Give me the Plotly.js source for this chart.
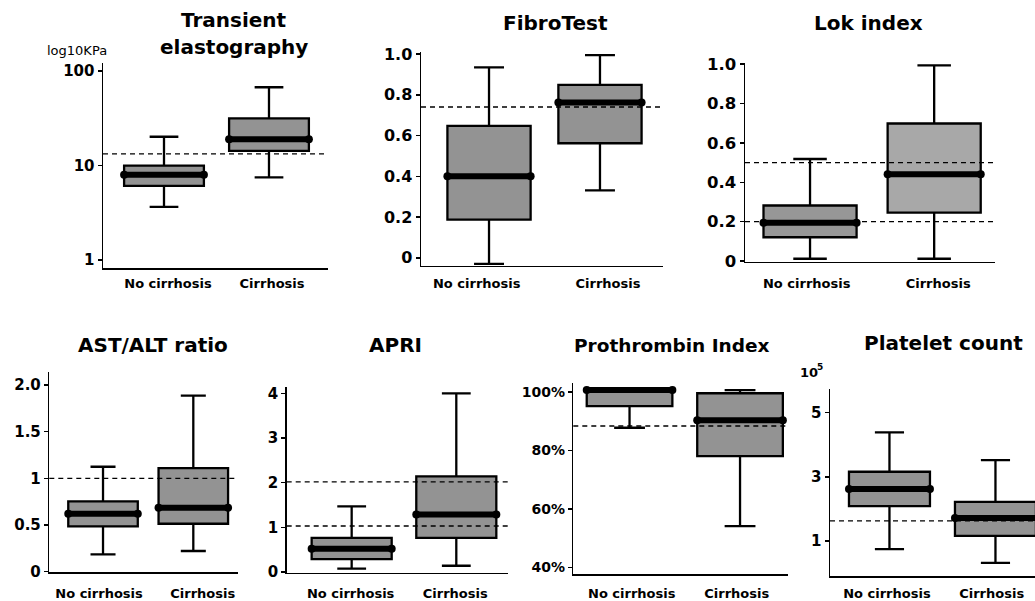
<!DOCTYPE html>
<html>
<head>
<meta charset="utf-8">
<script src="https://cdn.plot.ly/plotly-3.0.1.min.js"></script>
<style>html,body{margin:0;padding:0;background:#fff;}#chart{width:1035px;height:601px;}</style>
</head>
<body>
<div id="chart"></div>
<script>
// ---------------- DATA ----------------
const groups = ["No cirrhosis", "Cirrhosis"];
// each box: [lower whisker, Q1, median, Q3, upper whisker]
const teNoCirrhosis = [3.65, 6.1, 8.0, 9.98, 20.2];
const teCirrhosis = [7.5, 14.3, 19.0, 31.6, 67.5];
const teCutoffs = [13.3];
const teTicks = [1, 10, 100];
const teTickText = ["1", "10", "100"];

const ftNoCirrhosis = [-0.03, 0.187, 0.40, 0.647, 0.935];
const ftCirrhosis = [0.331, 0.562, 0.762, 0.849, 0.995];
const ftCutoffs = [0.74];
const ftTicks = [0, 0.2, 0.4, 0.6, 0.8, 1.0];
const ftTickText = ["0", "0.2", "0.4", "0.6", "0.8", "1.0"];

const lokNoCirrhosis = [0.012, 0.121, 0.194, 0.282, 0.518];
const lokCirrhosis = [0.012, 0.246, 0.44, 0.698, 0.993];
const lokCutoffs = [0.2, 0.5];
const lokTicks = [0, 0.2, 0.4, 0.6, 0.8, 1.0];
const lokTickText = ["0", "0.2", "0.4", "0.6", "0.8", "1.0"];

const astNoCirrhosis = [0.186, 0.486, 0.621, 0.754, 1.125];
const astCirrhosis = [0.222, 0.514, 0.686, 1.111, 1.886];
const astCutoffs = [1.0];
const astTicks = [0, 0.5, 1, 1.5, 2];
const astTickText = ["0", "0.5", "1", "1.5", "2.0"];

const apriNoCirrhosis = [0.075, 0.29, 0.52, 0.762, 1.47];
const apriCirrhosis = [0.14, 0.762, 1.29, 2.14, 4.0];
const apriCutoffs = [1.03, 2.02];
const apriTicks = [0, 1, 2, 3, 4];
const apriTickText = ["0", "1", "2", "3", "4"];

const ptNoCirrhosis = [87.8, 95.2, 100.7, 100.7, 100.7];
const ptCirrhosis = [54.2, 78.1, 90.4, 99.6, 100.7];
const ptCutoffs = [88.4];
const ptTicks = [40, 60, 80, 100];
const ptTickText = ["40%", "60%", "80%", "100%"];

const pltNoCirrhosis = [0.75, 2.09, 2.62, 3.16, 4.39];
const pltCirrhosis = [0.32, 1.16, 1.72, 2.22, 3.52];
const pltCutoffs = [1.63];
const pltTicks = [1, 3, 5];
const pltTickText = ["1", "3", "5"];

const titles = [["Transient", "elastography"], ["FibroTest"], ["Lok index"], ["AST/ALT ratio"], ["APRI"], ["Prothrombin Index"], ["Platelet count"]];
const teUnit = "log10KPa";
const pltUnitBase = "10";
const pltUnitExp = "5";

// ---------------- LAYOUT / STYLE ----------------
const W = 1035, H = 601;
const FONT = "DejaVu Sans, Liberation Sans, Arial, sans-serif";
// lp: x positions of the group labels (axis units), tl: tick label standoff
const panels = [
  {no: teNoCirrhosis, cir: teCirrhosis, cut: teCutoffs, tv: teTicks, tt: teTickText, tx: 234, ty: [20, 47], tsize: 20,
   xpx: [103, 328], ypx: [63, 268], xr: [-0.581, 1.562], yr: [-0.084, 2.086], ytype: "log", bw: 0.76, fs: 15,
   fills: ["#939393", "#939393"], lp: [0.038, 1.029], tl: 3},
  {no: ftNoCirrhosis, cir: ftCirrhosis, cut: ftCutoffs, tv: ftTicks, tt: ftTickText, tx: 555, ty: [23], tsize: 20,
   xpx: [421, 663], ypx: [52, 265.7], xr: [-0.613, 1.568], yr: [-0.039, 1.01], ytype: "linear", bw: 0.75, fs: 16,
   fills: ["#939393", "#939393"], lp: [-0.111, 1.072], tl: 5.5},
  {no: lokNoCirrhosis, cir: lokCirrhosis, cut: lokCutoffs, tv: lokTicks, tt: lokTickText, tx: 868, ty: [23], tsize: 20,
   xpx: [745, 995], ypx: [63, 261.7], xr: [-0.524, 1.49], yr: [-0.003, 1.005], ytype: "linear", bw: 0.75, fs: 16.5,
   fills: ["#979797", "#a8a8a8"], lp: [-0.027, 1.032], tl: 9.5},
  {no: astNoCirrhosis, cir: astCirrhosis, cut: astCutoffs, tv: astTicks, tt: astTickText, tx: 153, ty: [345], tsize: 20,
   xpx: [49.3, 238], ypx: [371.7, 572.3], xr: [-0.595, 1.495], yr: [-0.006, 2.143], ytype: "linear", bw: 0.77, fs: 15,
   fills: ["#939393", "#939393"], lp: [-0.044, 1.104], tl: 9},
  {no: apriNoCirrhosis, cir: apriCirrhosis, cut: apriCutoffs, tv: apriTicks, tt: apriTickText, tx: 395, ty: [345], tsize: 20,
   xpx: [286.7, 508.3], ypx: [387.3, 572.7], xr: [-0.621, 1.497], yr: [-0.016, 4.137], ytype: "linear", bw: 0.765, fs: 15,
   fills: ["#939393", "#939393"], lp: [-0.01, 0.99], tl: 8.5},
  {no: ptNoCirrhosis, cir: ptCirrhosis, cut: ptCutoffs, tv: ptTicks, tt: ptTickText, tx: 672, ty: [345], tsize: 18.5,
   xpx: [573.3, 788], ypx: [383.3, 574], xr: [-0.509, 1.434], yr: [37.8, 103], ytype: "linear", bw: 0.775, fs: 14,
   fills: ["#939393", "#939393"], lp: [0.02, 0.97], tl: 7},
  {no: pltNoCirrhosis, cir: pltCirrhosis, cut: pltCutoffs, tv: pltTicks, tt: pltTickText, tx: 943, ty: [343], tsize: 20,
   xpx: [830, 1035], ypx: [389.3, 576], xr: [-0.561, 1.373], yr: [-0.09, 5.73], ytype: "linear", bw: 0.764, fs: 15,
   fills: ["#939393", "#939393"], lp: [-0.024, 0.964], tl: 5}
];

const data = [];
const layout = {
  width: W, height: H,
  margin: {l: 0, r: 0, t: 0, b: 0},
  paper_bgcolor: "#ffffff", plot_bgcolor: "rgba(0,0,0,0)",
  showlegend: false, boxmode: "overlay",
  font: {family: FONT, color: "#000"},
  shapes: [], annotations: []
};

panels.forEach((p, i) => {
  const n = i === 0 ? "" : String(i + 1);
  const xa = "x" + n, ya = "y" + n;
  const stats = [p.no, p.cir];
  stats.forEach((s, g) => {
    data.push({
      type: "box", xaxis: xa, yaxis: ya, x: [g],
      lowerfence: [s[0]], q1: [s[1]], median: [s[2]], q3: [s[3]], upperfence: [s[4]],
      width: p.bw, whiskerwidth: 0.36, boxpoints: false,
      fillcolor: p.fills[g], line: {color: "#000", width: 2.3},
      hoverinfo: "skip", name: groups[g]
    });
    data.push({
      type: "scatter", mode: "lines+markers", xaxis: xa, yaxis: ya,
      x: [g - p.bw / 2, g + p.bw / 2], y: [s[2], s[2]],
      line: {color: "#000", width: 6}, marker: {color: "#000", size: 8},
      hoverinfo: "skip", cliponaxis: false
    });
  });
  layout["xaxis" + n] = {
    domain: [p.xpx[0] / W, p.xpx[1] / W], anchor: ya, range: p.xr, type: "linear",
    showline: true, linecolor: "#000", linewidth: 1.5, showgrid: false, zeroline: false,
    tickvals: p.lp, ticktext: groups, ticks: "outside", ticklen: p.tl, tickcolor: "rgba(0,0,0,0)",
    tickfont: {family: FONT, size: 13, weight: 700, color: "#000"}, fixedrange: true, automargin: false
  };
  layout["yaxis" + n] = {
    domain: [1 - p.ypx[1] / H, 1 - p.ypx[0] / H], anchor: xa, type: p.ytype, range: p.yr,
    showline: true, linecolor: "#000", linewidth: 1.5, showgrid: false, zeroline: false,
    tickvals: p.tv, ticktext: p.tt, ticks: "outside", ticklen: 4, tickwidth: 1.5, tickcolor: "#000",
    tickfont: {family: FONT, size: p.fs, weight: 700, color: "#000"}, fixedrange: true, automargin: false
  };
  p.cut.forEach(c => {
    layout.shapes.push({
      type: "line", xref: xa + " domain", yref: ya, x0: 0, x1: 1, y0: c, y1: c,
      line: {color: "#000", width: 1.3, dash: "5px,4px"}, layer: "above"
    });
  });
  titles[i].forEach((t, k) => {
    layout.annotations.push({
      xref: "paper", yref: "paper", x: p.tx / W, y: 1 - p.ty[k] / H, xanchor: "center", yanchor: "middle",
      text: t, showarrow: false,
      font: {family: FONT, size: p.tsize, weight: 700, color: "#000"}
    });
  });
});

layout.annotations.push({
  xref: "paper", yref: "paper", x: 77 / W, y: 1 - 50 / H, xanchor: "center", yanchor: "middle",
  text: teUnit, showarrow: false, font: {family: FONT, size: 13, color: "#000"}
});
layout.annotations.push({
  xref: "paper", yref: "paper", x: 820 / W, y: 1 - 372 / H, xanchor: "right", yanchor: "middle",
  text: pltUnitBase, showarrow: false, font: {family: FONT, size: 13, weight: 700, color: "#000"}
});
layout.annotations.push({
  xref: "paper", yref: "paper", x: 815 / W, y: 1 - 367 / H, xanchor: "left", yanchor: "middle",
  text: pltUnitExp, showarrow: false, font: {family: FONT, size: 9, weight: 700, color: "#000"}
});

Plotly.newPlot("chart", data, layout, {staticPlot: true, displayModeBar: false});
</script>
</body>
</html>
